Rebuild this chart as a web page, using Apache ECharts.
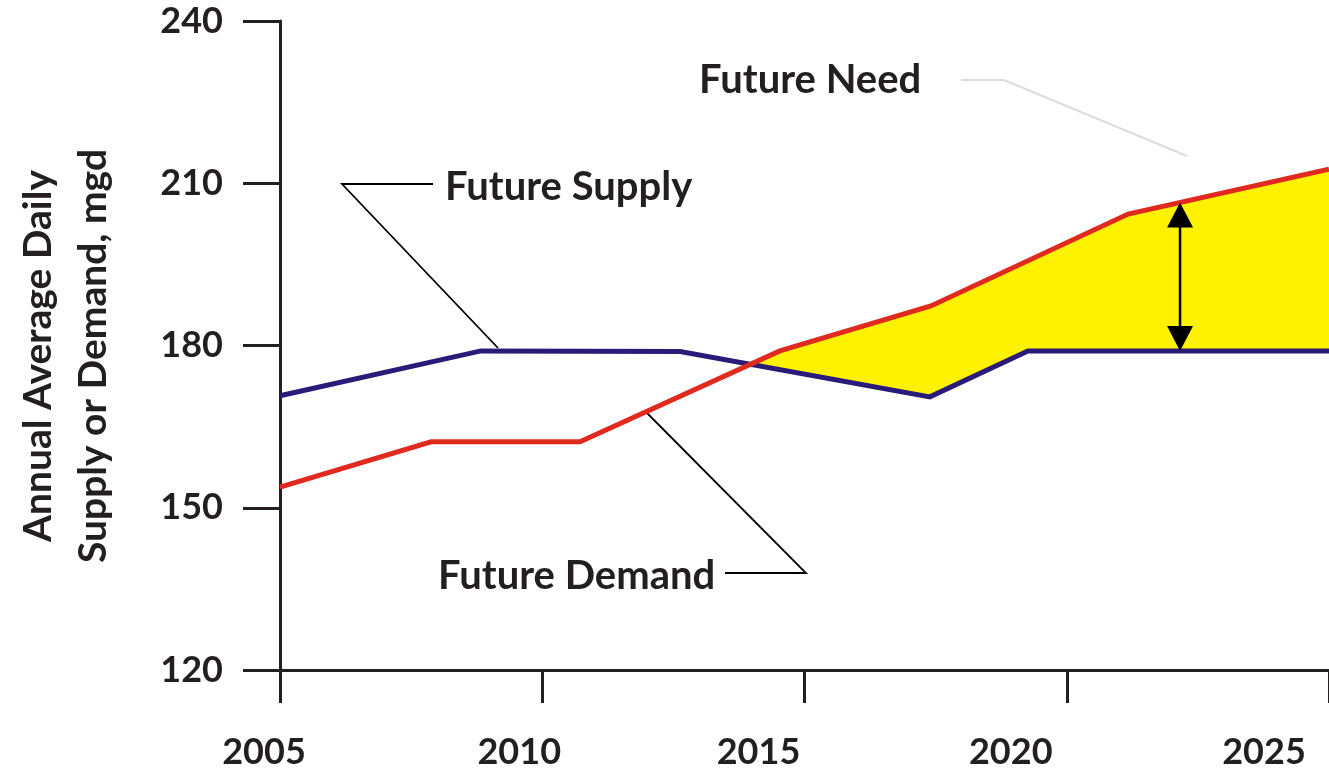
<!DOCTYPE html>
<html>
<head>
<meta charset="utf-8">
<script src="https://cdn.jsdelivr.net/npm/echarts@6/dist/echarts.min.js"></script>
<style>html,body{margin:0;padding:0;background:#fff}#c{width:1329px;height:772px}</style>
</head>
<body>
<div id="c"></div>
<script>
// ---- data ----
const supplyYears  = [2005, 2008.83, 2012.63, 2017.39, 2019.26, 2025];
const supplyValues = [170.7, 179.0, 178.9, 170.5, 179.0, 179.0];
const demandYears  = [2005, 2007.88, 2010.72, 2014.53, 2017.41, 2021.17, 2025];
const demandValues = [153.8, 162.2, 162.2, 179.0, 187.3, 204.3, 212.6];
const xTickValues = [2005, 2010, 2015, 2020, 2025];
const xTickLabels = ['2005', '2010', '2015', '2020', '2025'];
const yTickLabels = ['120', '150', '180', '210', '240'];
const needArrowYear = 2022.16;
const yAxisTitle = 'Annual Average Daily\nSupply or Demand, mgd';
const supplyLabel = 'Future Supply';
const demandLabel = 'Future Demand';
const needLabel = 'Future Need';

// ---- styling ----
const INK = '#231f20';
const RED = '#e02a20';
const NAVY = '#2a1b78';
const YELLOW = '#fff200';
const FONT = 'Lato';
const xLabelShift = [32, 46, 92, 112, 130]; // right padding to nudge labels left

function interp(xs, ys, x) {
  for (let i = 0; i < xs.length - 1; i++) {
    if (x >= xs[i] && x <= xs[i + 1]) {
      const t = (x - xs[i]) / (xs[i + 1] - xs[i]);
      return ys[i] + t * (ys[i + 1] - ys[i]);
    }
  }
  return x < xs[0] ? ys[0] : ys[ys.length - 1];
}

function needPolygon() {
  const allX = Array.from(new Set(supplyYears.concat(demandYears))).sort((a, b) => a - b);
  let cross = null;
  for (let i = 0; i < allX.length - 1 && !cross; i++) {
    const x0 = allX[i], x1 = allX[i + 1];
    const d0 = interp(demandYears, demandValues, x0) - interp(supplyYears, supplyValues, x0);
    const d1 = interp(demandYears, demandValues, x1) - interp(supplyYears, supplyValues, x1);
    if (d0 <= 0 && d1 > 0) {
      const xc = x0 + (d0 / (d0 - d1)) * (x1 - x0);
      cross = [xc, interp(supplyYears, supplyValues, xc)];
    }
  }
  const pts = [cross];
  demandYears.forEach((y, i) => { if (y > cross[0]) pts.push([y, demandValues[i]]); });
  const low = [];
  supplyYears.forEach((y, i) => { if (y > cross[0]) low.push([y, supplyValues[i]]); });
  return pts.concat(low.reverse());
}

const rich = {};
xTickLabels.forEach((l, i) => {
  rich['t' + i] = { fontFamily: FONT, fontWeight: 'bold', fontSize: 36, color: INK, padding: [0, xLabelShift[i], 0, 0] };
});

const chart = echarts.init(document.getElementById('c'), null, { renderer: 'canvas' });
chart.setOption({
  animation: false,
  backgroundColor: '#ffffff',
  grid: { left: 280, right: -7, top: 21, bottom: 102, containLabel: false },
  xAxis: {
    type: 'value', min: 2005, max: 2025, interval: 5,
    axisLine: { show: true, onZero: false, lineStyle: { color: INK, width: 3 } },
    axisTick: { show: true, length: 33, lineStyle: { color: INK, width: 3 } },
    splitLine: { show: false },
    axisLabel: {
      margin: 64,
      formatter: v => { const i = xTickValues.indexOf(v); return i < 0 ? '' : '{t' + i + '|' + xTickLabels[i] + '}'; },
      rich: rich
    }
  },
  yAxis: {
    type: 'value', min: 120, max: 240, interval: 30,
    axisLine: { show: true, onZero: false, lineStyle: { color: INK, width: 3 } },
    axisTick: { show: true, length: 37, lineStyle: { color: INK, width: 3 } },
    splitLine: { show: false },
    axisLabel: {
      margin: 57, fontFamily: FONT, fontWeight: 'bold', fontSize: 36, color: INK,
      padding: [10, 0, 0, 0],
      formatter: v => { const i = Math.round((v - 120) / 30); return yTickLabels[i] || ''; }
    }
  },
  series: [
    {
      type: 'custom', z: 1, silent: true,
      data: [[0]],
      renderItem: (params, api) => ({
        type: 'polygon',
        shape: { points: needPolygon().map(p => api.coord(p)) },
        style: { fill: YELLOW }
      })
    },
    {
      name: 'Supply', type: 'line', z: 3, symbol: 'none',
      data: supplyYears.map((y, i) => [y, supplyValues[i]]),
      lineStyle: { color: NAVY, width: 5, join: 'miter' }
    },
    {
      name: 'Demand', type: 'line', z: 3, symbol: 'none',
      data: demandYears.map((y, i) => [y, demandValues[i]]),
      lineStyle: { color: RED, width: 5, join: 'miter' }
    },
    {
      type: 'custom', z: 5, silent: true,
      data: [[0]],
      renderItem: (params, api) => {
        const top = api.coord([needArrowYear, interp(demandYears, demandValues, needArrowYear)]);
        const bot = api.coord([needArrowYear, interp(supplyYears, supplyValues, needArrowYear)]);
        const hl = 25, hw = 13;
        return {
          type: 'group',
          children: [
            { type: 'line', shape: { x1: top[0], y1: top[1] + hl - 2, x2: bot[0], y2: bot[1] - hl + 2 }, style: { stroke: '#000', lineWidth: 2.5 } },
            { type: 'polygon', shape: { points: [[top[0], top[1]], [top[0] - hw, top[1] + hl], [top[0] + hw, top[1] + hl]] }, style: { fill: '#000' } },
            { type: 'polygon', shape: { points: [[bot[0], bot[1]], [bot[0] - hw, bot[1] - hl], [bot[0] + hw, bot[1] - hl]] }, style: { fill: '#000' } }
          ]
        };
      }
    }
  ],
  graphic: [
    { type: 'text', x: 66, y: 356, rotation: Math.PI / 2,
      style: { text: yAxisTitle, font: 'bold 39px ' + FONT, fill: INK, textAlign: 'center', textVerticalAlign: 'middle', lineHeight: 55 } },
    { type: 'text', x: 699, y: 80, style: { text: needLabel, font: 'bold 40px ' + FONT, fill: INK, textAlign: 'left', textVerticalAlign: 'middle' } },
    { type: 'text', x: 445, y: 187, style: { text: supplyLabel, font: 'bold 40px ' + FONT, fill: INK, textAlign: 'left', textVerticalAlign: 'middle' } },
    { type: 'text', x: 438, y: 576, style: { text: demandLabel, font: 'bold 40px ' + FONT, fill: INK, textAlign: 'left', textVerticalAlign: 'middle' } },
    { type: 'polyline', shape: { points: [[433, 184], [342, 184], [498, 348]] }, style: { stroke: '#000', lineWidth: 1.8, fill: null } },
    { type: 'polyline', shape: { points: [[725, 573], [806, 573], [647, 413]] }, style: { stroke: '#000', lineWidth: 1.8, fill: null } },
    { type: 'polyline', shape: { points: [[961, 80], [1004, 80], [1187, 156]] }, style: { stroke: '#dcdcdc', lineWidth: 2, fill: null } }
  ]
});
</script>
</body>
</html>
